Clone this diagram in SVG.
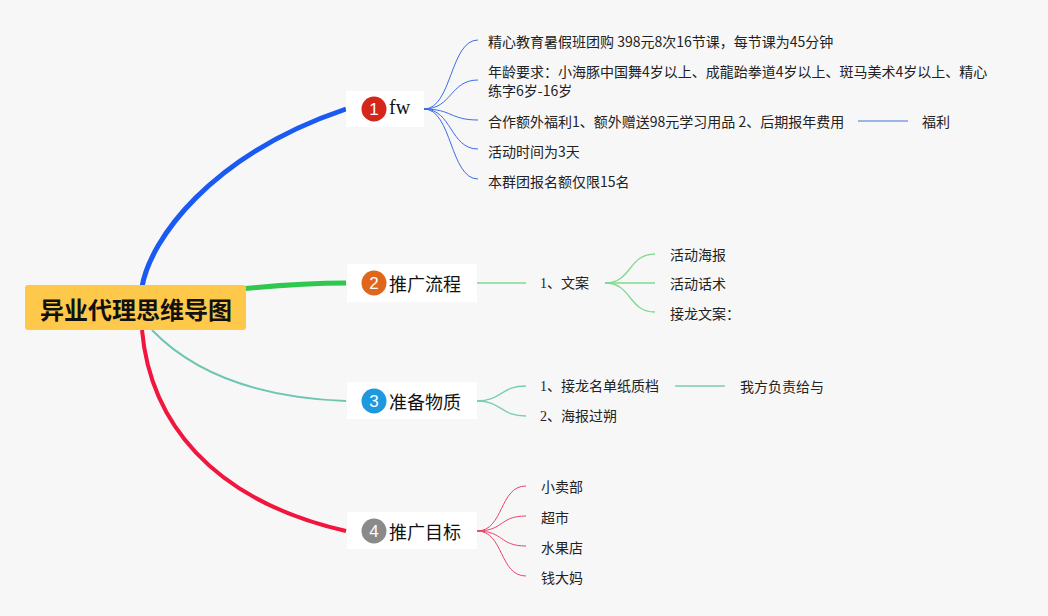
<svg xmlns="http://www.w3.org/2000/svg" width="1048" height="616" viewBox="0 0 1048 616">
<style>
.t{font-family:"Noto Sans CJK SC","Liberation Sans",sans-serif;font-size:14px;fill:#222;dominant-baseline:central}
.ts{font-family:"Liberation Serif","Noto Sans CJK SC",serif;font-size:14px;fill:#222;dominant-baseline:central}
.nt{font-family:"Noto Sans CJK SC","Liberation Sans",sans-serif;font-size:18px;fill:#111;dominant-baseline:central}
.nts{font-family:"Liberation Serif","Noto Sans CJK SC",serif;font-size:20px;fill:#111;dominant-baseline:central}
.num{font-family:"Liberation Sans",sans-serif;font-size:17px;fill:#fff;text-anchor:middle;dominant-baseline:central}
.box{fill:#fff}
.c1{fill:none;stroke:#3a6de6;stroke-width:1}
.c2{fill:none;stroke:#7fd890;stroke-width:1.3}
.c3{fill:none;stroke:#79cdb6;stroke-width:1.3}
.c4{fill:none;stroke:#e8456a;stroke-width:1}
</style>
<rect width="1048" height="616" fill="#f7f7f8"/>
<g id="connectors">
<path d="M142,287 C150,240 210,155 346,109" fill="none" stroke="#1a5af2" stroke-width="5"/>
<path d="M240,289 Q300,283 346,283" fill="none" stroke="#2ec84e" stroke-width="5"/>
<path d="M152,330 C200,380 270,398 346,401" fill="none" stroke="#6ec6b0" stroke-width="2"/>
<path d="M142,330 C150,420 210,500 346,531" fill="none" stroke="#f0163e" stroke-width="4"/>
<path class="c1" d="M424,109 C452,109 450,40 478,40"/>
<path class="c1" d="M424,109 C452,109 450,80 478,80"/>
<path class="c1" d="M424,109 C452,109 450,120 478,120"/>
<path class="c1" d="M424,109 C452,109 450,149 478,149"/>
<path class="c1" d="M424,109 C452,109 450,179 478,179"/>
<path d="M858,121 H908" fill="none" stroke="#7b9fe8" stroke-width="1.5"/>
<path class="c2" d="M477,283 H526"/>
<path class="c2" d="M605,283 C632,283 628,254 655,254"/>
<path class="c2" d="M605,283 H655"/>
<path class="c2" d="M605,283 C632,283 628,312 655,312"/>
<path class="c3" d="M477,401 C502,401 500,386 526,386"/>
<path class="c3" d="M477,401 C502,401 500,416 526,416"/>
<path class="c3" d="M675,386 H725"/>
<path class="c4" d="M477,531 C504,531 499,486 526,486"/>
<path class="c4" d="M477,531 C504,531 499,516 526,516"/>
<path class="c4" d="M477,531 C504,531 499,546 526,546"/>
<path class="c4" d="M477,531 C504,531 499,576 526,576"/>
</g>
<g id="root">
<rect x="25" y="285" width="221" height="45" rx="3" fill="#fec84a"/>
<text x="136" y="308" text-anchor="middle" font-family="'Noto Sans CJK SC',sans-serif" font-size="24" font-weight="bold" fill="#111" dominant-baseline="central">异业代理思维导图</text>
</g>
<g id="n1">
<rect class="box" x="346" y="91" width="78" height="36"/>
<circle cx="374" cy="109" r="12.5" fill="#d5261a"/>
<text class="num" x="374" y="109">1</text>
<text class="nts" x="389" y="107">fw</text>
</g>
<g id="n1-1"><text class="t" x="488" y="41">精心教育暑假班团购 398元8次16节课，每节课为45分钟</text></g>
<g id="n1-2"><text class="t" x="488" y="71">年龄要求：小海豚中国舞4岁以上、成龍跆拳道4岁以上、斑马美术4岁以上、精心</text><text class="t" x="488" y="90">练字6岁-16岁</text></g>
<g id="n1-3"><text class="t" x="488" y="121">合作额外福利1、额外赠送98元学习用品 2、后期报年费用</text></g>
<g id="n1-3-1"><text class="t" x="922" y="121">福利</text></g>
<g id="n1-4"><text class="t" x="488" y="151">活动时间为3天</text></g>
<g id="n1-5"><text class="t" x="488" y="181">本群团报名额仅限15名</text></g>
<g id="n2">
<rect class="box" x="347" y="264" width="130" height="38"/>
<circle cx="374" cy="283" r="12.5" fill="#e0661c"/>
<text class="num" x="374" y="283">2</text>
<text class="nt" x="389" y="283">推广流程</text>
</g>
<g id="n2-1"><text class="ts" x="540" y="283">1、文案</text></g>
<g id="n2-1-1"><text class="t" x="670" y="254">活动海报</text></g>
<g id="n2-1-2"><text class="t" x="670" y="283">活动话术</text></g>
<g id="n2-1-3"><text class="t" x="670" y="313">接龙文案：</text></g>
<g id="n3">
<rect class="box" x="347" y="382" width="130" height="37"/>
<circle cx="374" cy="401" r="12.5" fill="#1e98de"/>
<text class="num" x="374" y="401">3</text>
<text class="nt" x="389" y="401">准备物质</text>
</g>
<g id="n3-1"><text class="ts" x="540" y="386">1、接龙名单纸质档</text></g>
<g id="n3-1-1"><text class="t" x="740" y="386">我方负责给与</text></g>
<g id="n3-2"><text class="ts" x="540" y="416">2、海报过朔</text></g>
<g id="n4">
<rect class="box" x="347" y="512" width="130" height="37"/>
<circle cx="374" cy="531" r="12.5" fill="#8a8a8a"/>
<text class="num" x="374" y="531">4</text>
<text class="nt" x="389" y="531">推广目标</text>
</g>
<g id="n4-1"><text class="t" x="541" y="486">小卖部</text></g>
<g id="n4-2"><text class="t" x="541" y="517">超市</text></g>
<g id="n4-3"><text class="t" x="541" y="547">水果店</text></g>
<g id="n4-4"><text class="t" x="541" y="577">钱大妈</text></g>
</svg>
